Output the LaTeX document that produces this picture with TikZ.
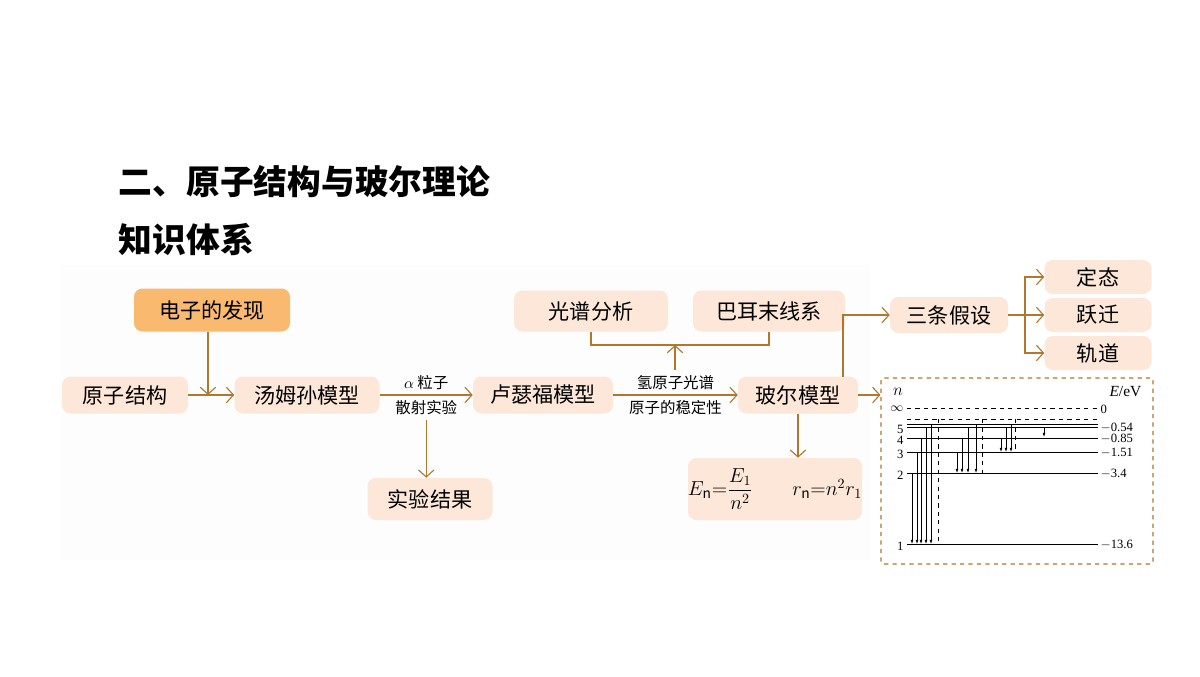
\documentclass[tikz,border=0pt]{standalone}
\usepackage{amsmath}
\usepackage{fontspec}
\setmainfont{Noto Sans CJK SC}
\newfontfamily\numfont{Liberation Serif}
\usetikzlibrary{positioning,arrows.meta}
\definecolor{LinkBrown}{RGB}{178, 118, 44}
\definecolor{BoxPeach}{RGB}{253, 231, 216}
\definecolor{BoxOrange}{RGB}{249, 185, 110}
\tikzset{
  box/.style={rectangle, rounded corners=6pt, fill=BoxPeach, font=\fontsize{15}{17}\selectfont, inner sep=0pt},
  link/.style={draw=LinkBrown, thick, -{Straight Barb[length=5pt,width=11pt]}},
  line/.style={draw=LinkBrown, thick},
  tag/.style={font=\fontsize{11}{13}\selectfont},
  level/.style={line width=0.5pt},
  jump/.style={line width=0.4pt, -{Latex[length=3pt,width=2pt]}}
}
\begin{document}
\begin{tikzpicture}[x=0.025cm, y=-0.025cm]
\useasboundingbox (0,0) rectangle (1200,676);
\fill[white] (0,0) rectangle (1200,676);
\fill[black!0.6] (60,265) rectangle (870,560);

% Titles
\node[anchor=west, font=\fontsize{24}{27}\selectfont\bfseries] (title) at (114,182) {二、原子结构与玻尔理论};
\node[anchor=west, font=\fontsize{24}{27}\selectfont\bfseries] (subtitle) at (114,240) {知识体系};

% Main chain
\node[box, fill=BoxOrange, minimum width=156*0.025cm, minimum height=43*0.025cm] (electron) at (212,310) {电子的发现};
\node[box, minimum width=126*0.025cm, minimum height=37*0.025cm] (atom) at (125,395) {原子结构};
\node[box, minimum width=145*0.025cm, minimum height=37*0.025cm] (thomson) at (307,395) {汤姆孙模型};
\node[box, minimum width=140*0.025cm, minimum height=37*0.025cm] (rutherford) at (543,395) {卢瑟福模型};
\node[box, minimum width=120*0.025cm, minimum height=37*0.025cm] (bohr) at (798,395) {玻尔模型};
\node[box, minimum width=125*0.025cm, minimum height=42*0.025cm] (result) at (430,499) {实验结果};
\node[box, minimum width=154*0.025cm, minimum height=41*0.025cm] (spectrum) at (591,311) {光谱分析};
\node[box, minimum width=152*0.025cm, minimum height=41*0.025cm] (balmer) at (769,311) {巴耳末线系};
\node[box, minimum width=118*0.025cm, minimum height=36*0.025cm] (postulate) at (949,315) {三条假设};
\node[box, minimum width=107*0.025cm, minimum height=34*0.025cm] (state) at (1098,277) {定态};
\node[box, minimum width=107*0.025cm, minimum height=34*0.025cm] (transition) at (1098,315) {跃迁};
\node[box, minimum width=107*0.025cm, minimum height=34*0.025cm] (orbit) at (1098,353) {轨道};
\node[box, minimum width=165*0.025cm, minimum height=62*0.025cm, font=\numfont\fontsize{14}{16}\selectfont] (formula) at (775,489)
  {$E_{\mathrm{n}}{=}\dfrac{E_1}{n^2}$\qquad$r_{\mathrm{n}}{=}n^2r_1$};

% Relations
\coordinate (join) at (208,395);
\draw[link] (atom) -- (thomson);
\draw[link] (electron.south -| join) -- (join);
\draw[link] (thomson) -- node[tag, above] (alpha) {$\alpha$ 粒子} node[tag, below] (scatter) {散射实验} (rutherford);
\draw[link] (scatter.south) -- (scatter.south |- result.north);
\draw[link] (rutherford) -- node[tag, above] (hydrogen) {氢原子光谱} node[tag, below] {原子的稳定性} (bohr);
\coordinate (bracket) at (675,345);
\draw[line] (spectrum.south) |- (bracket) -| (balmer.south);
\draw[link] (hydrogen.north -| bracket) -- (bracket);
\draw[link] (bohr.south) -- (bohr.south |- formula.north);
\coordinate (rise) at (843,377);
\draw[link] (rise) |- (postulate);
\coordinate (fork) at (1025,315);
\draw[line] (postulate) -- (fork);
\draw[link] (fork) |- (state);
\draw[link] (fork) -- (transition);
\draw[link] (fork) |- (orbit);

% Energy levels
\node[draw=LinkBrown, thick, dashed, rounded corners=2pt, minimum width=272*0.025cm, minimum height=186*0.025cm] (levels) at (1017,471) {};
\draw[link] (bohr.east) -- (bohr.east -| levels.west);
\begin{scope}[font=\numfont\fontsize{9}{10}\selectfont, inner sep=1pt]
\node[font=\numfont\itshape\fontsize{12}{13}\selectfont] at (898,392) {$n$};
\node[anchor=east, font=\numfont\fontsize{11}{12}\selectfont] at (1143,392) {\textit{E}/eV};
\draw[level, dashed] (907,408) -- (1098,408);
\draw[level, dashed] (907,419) -- (1098,419);
\draw[level] (907,424) -- (1098,424);
\foreach \y/\n/\e in {427/5/$-$0.54, 438/4/$-$0.85, 452/3/$-$1.51, 473/2/$-$3.4, 544/1/$-$13.6} {
  \draw[level] (907,\y) -- (1098,\y);
  \node[anchor=east] at (905,\y+2) {\n};
  \node[anchor=west] at (1099,\y+1) {\e};
}
\node[anchor=east] at (905,409) {$\infty$};
\node[anchor=west] at (1099,409) {0};
\foreach \x/\a/\b in {912/473/544, 917/452/544, 921/438/544, 926/427/544, 931/424/544,
  957/452/473, 962/438/473, 968/427/473, 976/424/473,
  1001/438/452, 1006/427/452, 1011/424/452, 1044/427/437}
  \draw[jump] (\x,\a) -- (\x,\b);
\foreach \x/\b in {938/544, 982/473, 1015/452}
  \draw[level, dashed] (\x,419) -- (\x,\b);
\end{scope}
\end{tikzpicture}
\end{document}
